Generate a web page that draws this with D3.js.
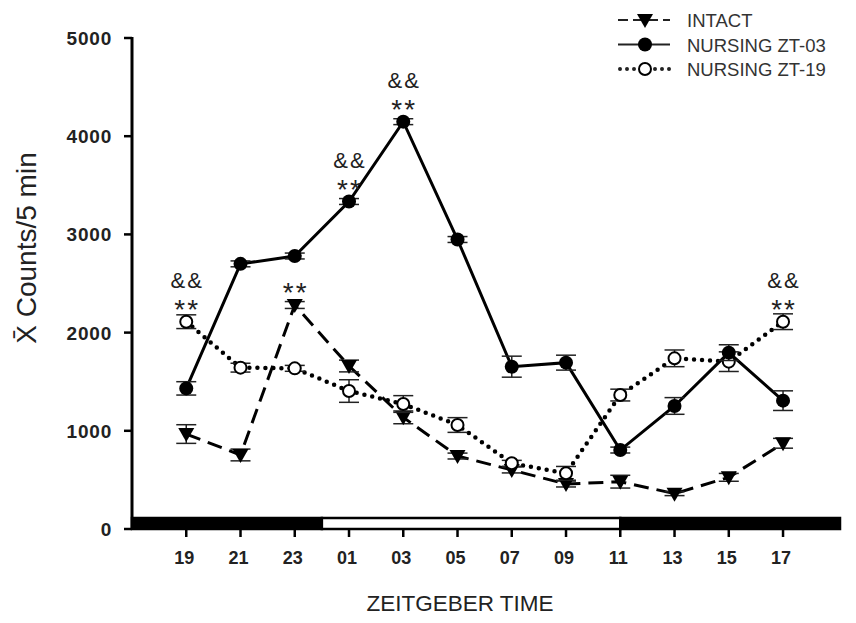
<!DOCTYPE html>
<html>
<head>
<meta charset="utf-8">
<script src="https://cdn.jsdelivr.net/npm/d3@7"></script>
<style>
  body { margin: 0; background: #fff; }
  svg { display: block; }
</style>
</head>
<body>
<div id="chart"></div>
<script>
// zeitgeber time labels and their position in hours (continuous, next day = +24)
const ztLabels = ['19', '21', '23', '01', '03', '05', '07', '09', '11', '13', '15', '17'];
const ztHours = [19, 21, 23, 25, 27, 29, 31, 33, 35, 37, 39, 41];

const intact = [967, 754, 2281, 1660, 1137, 743, 601, 458, 482, 360, 526, 873];
const intactErr = [95, 60, 35, 60, 65, 30, 30, 30, 65, 20, 40, 50];
const zt03 = [1432, 2700, 2780, 3335, 4148, 2948, 1653, 1694, 804, 1253, 1796, 1307];
const zt03Err = [68, 30, 30, 30, 30, 30, 107, 76, 30, 85, 80, 100];
const zt19 = [2111, 1643, 1636, 1405, 1273, 1059, 669, 567, 1364, 1738, 1704, 2111];
const zt19Err = [70, 45, 30, 115, 85, 75, 30, 70, 60, 85, 100, 80];

const yTicks = [0, 1000, 2000, 3000, 4000, 5000];

// light/dark bar along the x axis (hours)
const phases = [
  { from: 17, to: 24, dark: true },
  { from: 24, to: 35, dark: false },
  { from: 35, to: 43.1, dark: true }
];

// significance marks: series, point index, text lines (top to bottom)
const marks = [
  { series: 'zt19', i: 0, lines: ['&&', '**'] },
  { series: 'intact', i: 2, lines: ['**'] },
  { series: 'zt03', i: 3, lines: ['&&', '**'] },
  { series: 'zt03', i: 4, lines: ['&&', '**'] },
  { series: 'zt19', i: 11, lines: ['&&', '**'] }
];

const width = 856, height = 623;

const x = d3.scaleLinear().domain([17, 43.1]).range([132, 840]);
const y = d3.scaleLinear().domain([0, 5000]).range([529, 38]);

const svg = d3.select('#chart').append('svg')
  .attr('width', width)
  .attr('height', height)
  .style('font-family', 'Liberation Sans, Arial, sans-serif');

const series = {
  intact: { values: intact, err: intactErr, dash: '15,8', cap: 'butt', width: 3, marker: 'tri' },
  zt03: { values: zt03, err: zt03Err, dash: null, cap: 'butt', width: 3, marker: 'fill' },
  zt19: { values: zt19, err: zt19Err, dash: '0,8', cap: 'round', width: 4.5, marker: 'open' }
};

// y axis
const yAxis = svg.append('g');
yAxis.append('line')
  .attr('x1', 132).attr('x2', 132)
  .attr('y1', y(5000) - 1).attr('y2', y(0) + 1)
  .attr('stroke', '#000').attr('stroke-width', 3);
yAxis.selectAll('.tick').data(yTicks).enter().append('line')
  .attr('x1', 124).attr('x2', 132)
  .attr('y1', d => y(d)).attr('y2', d => y(d))
  .attr('stroke', '#000').attr('stroke-width', 2.5);
yAxis.selectAll('.lab').data(yTicks).enter().append('text')
  .attr('x', 112).attr('y', d => y(d) + 7)
  .attr('text-anchor', 'end')
  .attr('font-size', 19).attr('font-weight', 'bold')
  .attr('letter-spacing', 0.8)
  .attr('fill', '#222')
  .text(d => d);

svg.append('text')
  .attr('transform', 'translate(36,248) rotate(-90)')
  .attr('text-anchor', 'middle')
  .attr('font-size', 28)
  .attr('fill', '#222')
  .text('X\u0304 Counts/5 min');

// phase bar
svg.selectAll('.phase').data(phases).enter().append('rect')
  .attr('x', d => x(d.from))
  .attr('width', d => x(d.to) - x(d.from))
  .attr('y', 518).attr('height', 11)
  .attr('fill', d => d.dark ? '#000' : '#fff')
  .attr('stroke', '#000').attr('stroke-width', 2.5);

// x ticks
svg.selectAll('.xt').data(ztHours).enter().append('line')
  .attr('x1', d => x(d)).attr('x2', d => x(d))
  .attr('y1', 529).attr('y2', 537)
  .attr('stroke', '#000').attr('stroke-width', 2.5);
svg.selectAll('.xl').data(ztLabels).enter().append('text')
  .attr('x', (d, i) => x(ztHours[i]) - 2)
  .attr('y', 564)
  .attr('text-anchor', 'middle')
  .attr('font-size', 18)
  .attr('font-weight', 'bold')
  .attr('fill', '#222')
  .text(d => d);

svg.append('text')
  .attr('x', 460).attr('y', 611)
  .attr('text-anchor', 'middle')
  .attr('font-size', 22.5)
  .attr('fill', '#222')
  .text('ZEITGEBER TIME');

const line = d3.line()
  .x((d, i) => x(ztHours[i]))
  .y(d => y(d));

function drawMarker(g, type, cx, cy) {
  if (type === 'tri') {
    g.append('path')
      .attr('d', `M${cx - 8},${cy - 6}L${cx + 8},${cy - 6}L${cx},${cy + 8}Z`)
      .attr('fill', '#000');
  } else if (type === 'fill') {
    g.append('circle').attr('cx', cx).attr('cy', cy).attr('r', 7).attr('fill', '#000');
  } else {
    g.append('circle').attr('cx', cx).attr('cy', cy).attr('r', 6)
      .attr('fill', '#fff').attr('stroke', '#000').attr('stroke-width', 2);
  }
}

['intact', 'zt19', 'zt03'].forEach(key => {
  const s = series[key];
  const g = svg.append('g');
  g.append('path')
    .datum(s.values)
    .attr('d', line)
    .attr('fill', 'none')
    .attr('stroke', '#000')
    .attr('stroke-width', s.width)
    .attr('stroke-linecap', s.cap)
    .attr('stroke-dasharray', s.dash);
  s.values.forEach((v, i) => {
    const cx = x(ztHours[i]);
    const hi = y(v + s.err[i]), lo = y(v - s.err[i]);
    g.append('line').attr('x1', cx).attr('x2', cx).attr('y1', hi).attr('y2', lo)
      .attr('stroke', '#222').attr('stroke-width', 1.5);
    [hi, lo].forEach(yy => g.append('line')
      .attr('x1', cx - 10).attr('x2', cx + 10).attr('y1', yy).attr('y2', yy)
      .attr('stroke', '#222').attr('stroke-width', 1.5));
    drawMarker(g, s.marker, cx, y(v));
  });
});

// significance marks
marks.forEach(m => {
  const s = series[m.series];
  const cx = x(ztHours[m.i]) + 1;
  const cy = y(s.values[m.i]);
  const n = m.lines.length;
  m.lines.forEach((t, k) => {
    const fromBottom = n - 1 - k;
    const isStar = t === '**';
    svg.append('text')
      .attr('x', cx)
      .attr('y', isStar ? cy - 3 - fromBottom * 22 : cy - 34 - (fromBottom - 1) * 22)
      .attr('text-anchor', 'middle')
      .attr('font-size', isStar ? 28 : 22)
      .attr('fill', '#222')
      .attr('letter-spacing', 2)
      .text(t);
  });
});

// legend
const legend = [
  { label: 'INTACT', key: 'intact' },
  { label: 'NURSING ZT-03', key: 'zt03' },
  { label: 'NURSING ZT-19', key: 'zt19' }
];
const lg = svg.append('g');
legend.forEach((d, i) => {
  const s = series[d.key];
  const ly = 20 + i * 24.5;
  lg.append('line')
    .attr('x1', d.key === 'zt19' ? 620 : 618).attr('x2', 670)
    .attr('y1', ly).attr('y2', ly)
    .attr('stroke', '#222')
    .attr('stroke-width', d.key === 'zt19' ? 4 : (d.key === 'zt03' ? 1.8 : 2))
    .attr('stroke-linecap', s.cap)
    .attr('stroke-dasharray', d.key === 'intact' ? '10,5' : (d.key === 'zt19' ? '0,7' : null));
  drawMarker(lg, s.marker, 645, ly);
  lg.append('text')
    .attr('x', 687).attr('y', ly + 7)
    .attr('font-size', 18.5)
    .attr('fill', '#333')
    .text(d.label);
});
</script>
</body>
</html>
